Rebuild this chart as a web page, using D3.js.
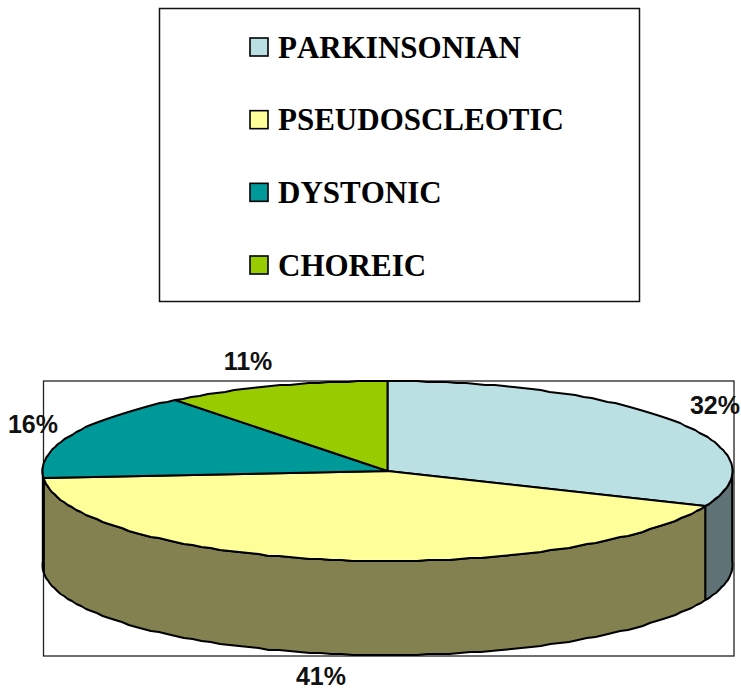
<!DOCTYPE html>
<html><head><meta charset="utf-8">
<script src="https://cdn.jsdelivr.net/npm/d3@7"></script>
<style>html,body{margin:0;padding:0;background:#fff}svg{display:block}</style>
</head><body><div id="c"></div>
<script>
const categories = ["PARKINSONIAN","PSEUDOSCLEOTIC","DYSTONIC","CHOREIC"];
const values = [32,41,16,11];
const labels = ["32%","41%","16%","11%"];
const topColors = ["#bbe0e3","#ffff99","#009999","#99cc00"];
const sideColors = ["#5f7276","#83814f","#005c5c","#5c7a00"];

const W=741,H=690;
const svg=d3.select("#c").append("svg").attr("width",W).attr("height",H);

// Legend
svg.append("rect").attr("x",159.5).attr("y",8.5).attr("width",480).attr("height",293)
  .attr("fill","#fff").attr("stroke","#111").attr("stroke-width",1.5);
const legY=d3.scalePoint().domain(categories).range([47,265]);
const leg=svg.append("g").selectAll("g").data(categories).join("g")
  .attr("transform",d=>`translate(0,${legY(d)})`);
leg.append("rect").attr("x",250).attr("y",-9).attr("width",18).attr("height",18)
  .attr("fill",(d,i)=>topColors[i]).attr("stroke","#000").attr("stroke-width",1.6);
leg.append("text").attr("x",278).attr("y",10.5).text(d=>d)
  .attr("font-family","'Liberation Serif',serif").attr("font-weight","bold")
  .style("font-kerning","none")
  .attr("font-size",31).attr("fill","#000");

// Plot frame
const cx=387.5, rx=345, cy=471, ry=90, depth=94;
svg.append("rect").attr("x",43.5).attr("y",381).attr("width",690.5).attr("height",275)
  .attr("fill","#fff").attr("stroke","#222").attr("stroke-width",1.3);

const px=d3.scaleLinear().domain([-1,1]).range([cx-rx,cx+rx]);
const py=d3.scaleLinear().domain([-1,1]).range([cy-ry,cy+ry]);
const pie=d3.pie().sort(null).startAngle(0).endAngle(2*Math.PI);
const arcs=pie(values);
// Perspective: the nearer half of the disc takes up slightly more of the rim
const perspective=2.5*Math.PI/180;
const warp=a=>a-perspective*Math.sin(a);
const pt=(a,dz=0)=>{const w=warp(a);return [px(Math.sin(w)),Math.round(py(-Math.cos(w)))+dz];};
const samples=(a0,a1)=>{const n=Math.max(2,Math.round((a1-a0)/0.03));return d3.range(0,n+1).map(t=>a0+(a1-a0)*t/n);};
const line=d3.line();
const outline=s=>s.attr("stroke","#000").attr("stroke-width",2).attr("stroke-linejoin","round");

// Side walls: only the front half of the ellipse
const wallG=svg.append("g");
arcs.forEach((d,i)=>{
  const a0=Math.max(d.startAngle,Math.PI/2), a1=Math.min(d.endAngle,3*Math.PI/2);
  if(a1<=a0) return;
  const s=samples(a0,a1);
  const poly=s.map(a=>pt(a)).concat(s.slice().reverse().map(a=>pt(a,depth)));
  outline(wallG.append("path").attr("d",line(poly)+"Z").attr("fill",sideColors[i]));
});

// Top slices
const sliceG=svg.append("g");
arcs.forEach((d,i)=>{
  const poly=[[px(0),py(0)]].concat(samples(d.startAngle,d.endAngle).map(a=>pt(a)));
  outline(sliceG.append("path").attr("d",line(poly)+"Z").attr("fill",topColors[i]));
});

// Data labels
const labelX=[715,321,33,248], labelY=[414,685,433,370];
svg.append("g").selectAll("text").data(labels).join("text")
  .attr("x",(d,i)=>labelX[i]).attr("y",(d,i)=>labelY[i]).attr("text-anchor","middle")
  .attr("font-family","'Liberation Sans',Arial,sans-serif").attr("font-weight","bold")
  .attr("font-size",25).attr("fill","#111").text(d=>d);
</script></body></html>
